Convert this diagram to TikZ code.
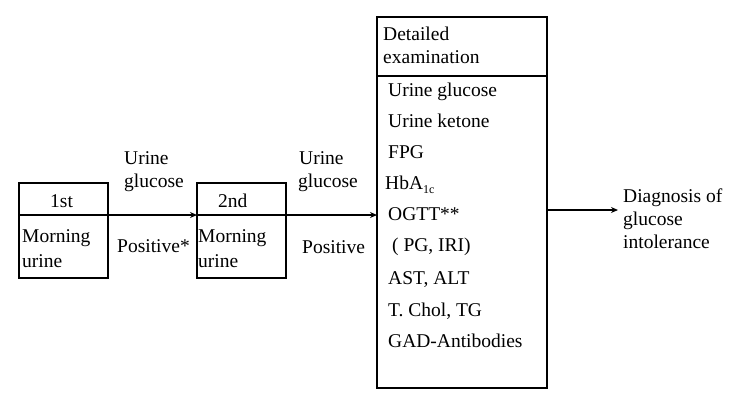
\documentclass[tikz,border=0pt]{standalone}
\usepackage{fontspec}
\setmainfont{Liberation Serif}
\usetikzlibrary{arrows.meta}
\begin{document}
\begin{tikzpicture}[x=1pt,y=-1pt,
 box/.style={draw,line width=2.6pt,inner sep=0pt,outer sep=0pt,anchor=north west},
 divider/.style={line width=2.6pt},
 lbl/.style={anchor=base west,inner sep=0pt,font=\fontsize{19.5}{23}\selectfont},
 arr/.style={line width=2pt,-{Stealth[length=7pt,width=6pt]}}]
\useasboundingbox[fill=white] (0,0) rectangle (734,408);
% boxes
\node[box,minimum width=89pt,minimum height=95pt] (b1) at (19,183) {};
\node[box,minimum width=89pt,minimum height=95pt] (b2) at (197,183) {};
\node[box,minimum width=170pt,minimum height=371pt] (b3) at (377,17) {};
\draw[divider] (b1.west |- 0,215) -- (b1.east |- 0,215);
\draw[divider] (b2.west |- 0,215) -- (b2.east |- 0,215);
\draw[divider] (b3.west |- 0,76) -- (b3.east |- 0,76);
% box 1 texts
\node[lbl] (t1a) at (50,207) {1st};
\node[lbl] (t1b) at (22,242) {Morning};
\node[lbl] (t1c) at (22,267) {urine};
% box 2 texts
\node[lbl] (t2a) at (218,207) {2nd};
\node[lbl] (t2b) at (198,242) {Morning};
\node[lbl] (t2c) at (198,267) {urine};
% box 3 texts
\node[lbl] (h1) at (383,40) {Detailed};
\node[lbl] (h2) at (383,63) {examination};
\node[lbl] (i1) at (388,96) {Urine glucose};
\node[lbl] (i2) at (388,127) {Urine ketone};
\node[lbl] (i3) at (388,158) {FPG};
\node[lbl] (i4) at (385,189) {HbA\raisebox{-4pt}{\fontsize{12}{12}\selectfont 1c}};
\node[lbl] (i5) at (388,220) {OGTT**};
\node[lbl] (i6) at (392,251) {( PG, IRI)};
\node[lbl] (i7) at (388,284) {AST, ALT};
\node[lbl] (i8) at (388,316) {T. Chol, TG};
\node[lbl] (i9) at (388,347) {GAD-Antibodies};
% edge labels
\node[lbl] (u1) at (124,164) {Urine};
\node[lbl] (g1) at (124,187) {glucose};
\node[lbl] (p1) at (117,252) {Positive*};
\node[lbl] (u2) at (299,164) {Urine};
\node[lbl] (g2) at (298,187) {glucose};
\node[lbl] (p2) at (302,253) {Positive};
% diagnosis
\node[lbl] (d1) at (623,202) {Diagnosis of};
\node[lbl] (d2) at (623,225) {glucose};
\node[lbl] (d3) at (623,248) {intolerance};
\coordinate (dx) at (618,210);
% arrows
\draw[arr] (b1.east |- 0,215) -- (b2.west |- 0,215);
\draw[arr] (b2.east |- 0,215) -- (b3.west |- 0,215);
\draw[arr] (b3.east |- dx) -- (dx);
\end{tikzpicture}
\end{document}
